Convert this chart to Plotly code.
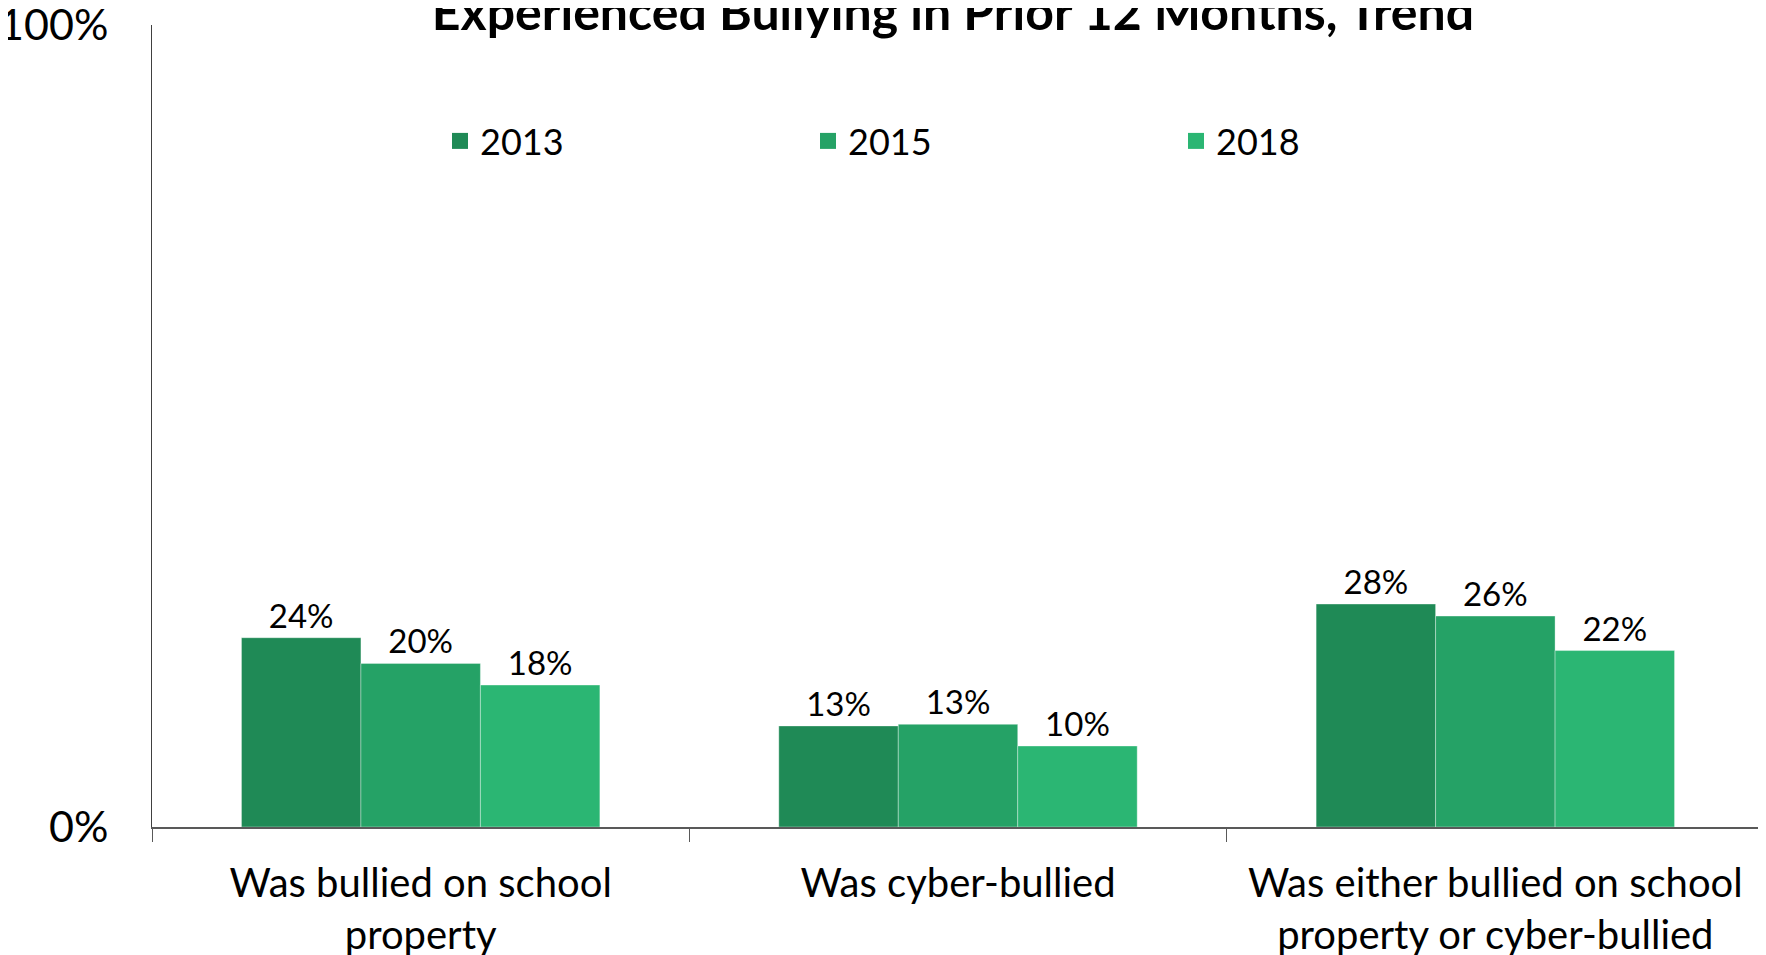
import plotly.graph_objects as go

categories = ["Was bullied on school<br>property", "Was cyber-bullied",
              "Was either bullied on school<br>property or cyber-bullied"]
years = ["2013", "2015", "2018"]
values_2013 = [23.6, 12.6, 27.8]
values_2015 = [20.4, 12.8, 26.3]
values_2018 = [17.7, 10.1, 22.0]
colors = ["#1F8A56", "#25A266", "#2BB673"]
y_ticks = [0, 100]
y_tick_labels = ["0%", "100%"]

FONT = "Lato"
W, H = 1758, 947          # page has an 8px body margin
L, R, T, B = 144, 2, 17, 128
PW = W - L - R
PH = H - T - B

fig = go.Figure()
for yr, vals, col in zip(years, [values_2013, values_2015, values_2018], colors):
    fig.add_trace(go.Bar(
        x=categories, y=vals, name=yr, showlegend=False, legendgroup=yr,
        marker=dict(color=col, line=dict(color="rgba(255,255,255,0.35)", width=1)),
        text=[f"{v:.0f}%" for v in vals], textposition="outside",
        textfont=dict(family=FONT, size=33, color="#000000"),
        cliponaxis=False,
    ))
    fig.add_trace(go.Scatter(
        x=[None], y=[None], mode="markers", name=yr, legendgroup=yr,
        marker=dict(symbol="square", size=22, color=col),
    ))

fig.update_layout(
    width=W, height=H,
    margin=dict(l=L, r=R, t=T, b=B, autoexpand=False),
    paper_bgcolor="white", plot_bgcolor="white",
    barmode="group", bargap=0.333, bargroupgap=0,
    title=dict(text="<b>Experienced Bullying in Prior 12 Months, Trend</b>",
               x=945 / W, xanchor="center",
               y=1 - 4 / H, yanchor="middle", yref="container",
               font=dict(family=FONT, size=50, color="#000000")),
    legend=dict(orientation="h", x=(432 - L) / PW, xanchor="left",
                y=1 - (133 - T) / PH, yanchor="middle",
                font=dict(family=FONT, size=36, color="#000000"),
                entrywidth=323, entrywidthmode="pixels",
                bgcolor="rgba(0,0,0,0)", itemsizing="trace"),
    font=dict(family=FONT, color="#000000"),
)
fig.update_yaxes(range=[0, 100], tickvals=y_ticks, ticktext=y_tick_labels,
                 showgrid=False, zeroline=False, showline=True,
                 linecolor="#404040", linewidth=1, ticks="",
                 ticklabelstandoff=34, automargin=False,
                 ticklabeloverflow="allow",
                 tickfont=dict(family=FONT, size=43, color="#000000"))
fig.update_xaxes(showgrid=False, showline=True, linecolor="#595959", linewidth=1.5,
                 ticks="outside", tickson="boundaries", ticklen=13,
                 tickcolor="#595959", tickwidth=1,
                 ticklabelstandoff=20, automargin=False,
                 ticklabeloverflow="allow",
                 tickfont=dict(family=FONT, size=40, color="#000000"))
fig.write_html("out.html")
